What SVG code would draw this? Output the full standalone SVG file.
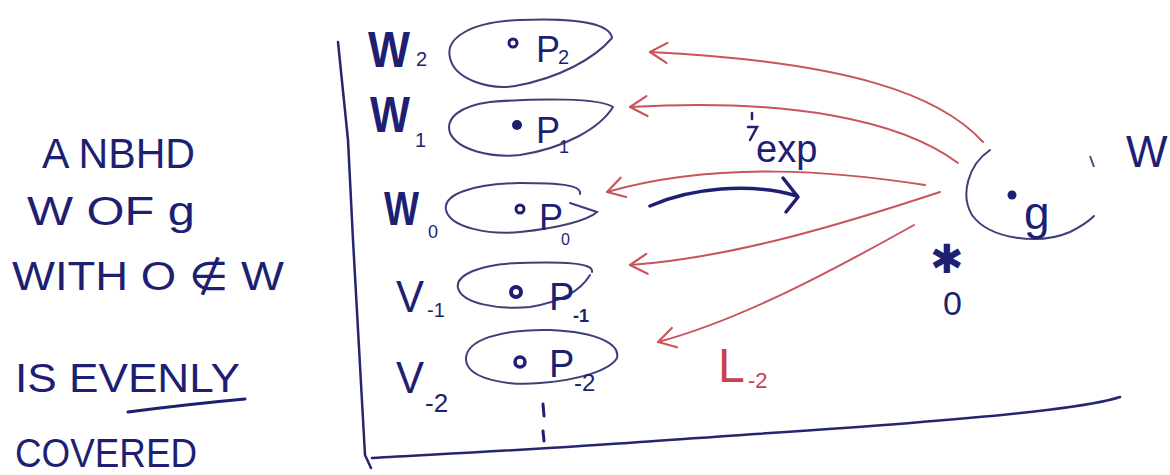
<svg xmlns="http://www.w3.org/2000/svg" width="1170" height="475" viewBox="0 0 1170 475">
<style>
.ink{fill:#1e1f73;font-family:"Liberation Sans","DejaVu Sans",sans-serif;}
.bold{font-weight:bold;}
.red{fill:#c8424e;font-family:"Liberation Sans","DejaVu Sans",sans-serif;}
.blob{fill:none;stroke:#3d3f78;stroke-width:2;stroke-linecap:round;}
.frame{fill:none;stroke:#24266f;stroke-width:2.5;stroke-linecap:round;}
.arr{fill:none;stroke:#c9545c;stroke-width:2;stroke-linecap:round;}
.barr{fill:none;stroke:#1e1f73;stroke-width:3.5;stroke-linecap:round;stroke-linejoin:round;}
</style>
<defs>
<marker id="rhead" markerUnits="userSpaceOnUse" markerWidth="26" markerHeight="26" viewBox="0 0 26 26" refX="22" refY="13" orient="auto">
<path d="M5,3 L22,13 L5,23" fill="none" stroke="#c9545c" stroke-width="2.2" stroke-linecap="round" stroke-linejoin="round"/>
</marker>
</defs>
<rect width="1170" height="475" fill="#ffffff"/>

<g id="caption">
<text class="ink" x="42" y="168" font-size="42" textLength="153" lengthAdjust="spacingAndGlyphs">A NBHD</text>
<text class="ink" x="27" y="225" font-size="40" textLength="168" lengthAdjust="spacingAndGlyphs">W OF g</text>
<text class="ink" x="12" y="290" font-size="40" textLength="272" lengthAdjust="spacingAndGlyphs">WITH O ∉ W</text>
<text class="ink" x="15" y="392" font-size="40" textLength="225" lengthAdjust="spacingAndGlyphs">IS EVENLY</text>
<path d="M128,412 Q190,404 245,399" fill="none" stroke="#1e1f73" stroke-width="3" stroke-linecap="round"/>
<text class="ink" x="15" y="467" font-size="40" textLength="182" lengthAdjust="spacingAndGlyphs">COVERED</text>
</g>

<g id="frame">
<path class="frame" d="M338,42 L348,140 L353,240 L365,455 L371,468"/>
<path class="frame" d="M372,458 C480,452 560,448 640,442 C780,432 950,422 1047,410 C1080,406 1105,402 1120,397" stroke="#4a4c80" stroke-width="2"/>
</g>

<g id="W2">
<text class="ink bold" x="368" y="67" font-size="50" textLength="42" lengthAdjust="spacingAndGlyphs">W</text>
<text class="ink" x="416" y="66" font-size="20">2</text>
<path class="blob" d="M612,38 C610,22 570,18 520,20 C470,22 445,38 450,58 C455,80 490,90 515,86 C560,78 595,58 612,38"/>
<circle cx="513" cy="43" r="4" fill="none" stroke="#1e1f73" stroke-width="3"/>
<text class="ink" x="536" y="62" font-size="36">P</text>
<text class="ink" x="558" y="64" font-size="20">2</text>
</g>

<g id="W1">
<text class="ink bold" x="370" y="132" font-size="50" textLength="40" lengthAdjust="spacingAndGlyphs">W</text>
<text class="ink" x="415" y="147" font-size="20">1</text>
<path class="blob" d="M613,107 C600,98 540,98 490,102 C460,106 445,118 450,133 C458,150 490,158 520,155 C565,148 600,128 613,107"/>
<circle cx="517" cy="125" r="5" fill="#1e1f73"/>
<text class="ink" x="536" y="143" font-size="36">P</text>
<text class="ink" x="559" y="153" font-size="18">1</text>
</g>

<g id="W0">
<text class="ink bold" x="384" y="225" font-size="48" textLength="35" lengthAdjust="spacingAndGlyphs">W</text>
<text class="ink" x="428" y="238" font-size="18">0</text>
<path class="blob" d="M580,194 C582,185 560,183 520,183 C470,184 443,195 446,210 C450,228 490,235 520,232 C560,228 588,220 597,212 L570,203"/>
<circle cx="520" cy="209" r="4" fill="none" stroke="#1e1f73" stroke-width="3"/>
<text class="ink" x="539" y="230" font-size="36">P</text>
<text class="ink" x="561" y="245" font-size="16">0</text>
</g>

<g id="V-1">
<text class="ink" x="396" y="312" font-size="44" textLength="28" lengthAdjust="spacingAndGlyphs">V</text>
<text class="ink" x="427" y="317" font-size="20">-1</text>
<path class="blob" d="M592,272 C594,262 560,262 520,263 C480,264 455,275 458,288 C462,304 500,310 530,307 C560,302 580,292 590,275"/>
<circle cx="516" cy="292" r="5" fill="none" stroke="#1e1f73" stroke-width="4"/>
<text class="ink" x="549" y="310" font-size="38">P</text>
<text class="ink bold" x="573" y="322" font-size="18">-1</text>
</g>

<g id="V-2">
<text class="ink" x="396" y="393" font-size="44" textLength="28" lengthAdjust="spacingAndGlyphs">V</text>
<text class="ink" x="425" y="412" font-size="26">-2</text>
<path class="blob" d="M617,358 C620,345 600,332 550,330 C500,329 465,340 466,360 C468,380 510,386 540,383 C580,380 610,370 617,358"/>
<circle cx="520" cy="362" r="5" fill="none" stroke="#1e1f73" stroke-width="3.5"/>
<text class="ink" x="549" y="377" font-size="38">P</text>
<text class="ink" x="574" y="391" font-size="24">-2</text>
</g>

<g id="ellipsis">
<line x1="543" y1="404" x2="544" y2="416" stroke="#1e1f73" stroke-width="3" stroke-linecap="round"/>
<line x1="543" y1="431" x2="544" y2="441" stroke="#1e1f73" stroke-width="3" stroke-linecap="round"/>
</g>

<g id="Wq">
<path class="blob" d="M990,150 C968,165 960,195 972,215 C990,240 1040,245 1070,232 C1082,226 1090,220 1094,216"/>
<circle cx="1012" cy="195" r="4.5" fill="#1e1f73"/>
<text class="ink" x="1024" y="229" font-size="46">g</text>
<line x1="1090" y1="156" x2="1094" y2="167" stroke="#4a4c80" stroke-width="2"/>
<text class="ink" x="1126" y="167" font-size="44">W</text>
</g>

<g id="origin">
<text x="930" y="273" font-size="40" fill="#1e1f73" font-family="'DejaVu Sans',sans-serif">✱</text>
<text class="ink" x="943" y="315" font-size="34">0</text>
</g>

<g id="connectors">
<path class="arr" d="M983,142 C940,95 850,62 650,52" marker-end="url(#rhead)"/>
<path class="arr" d="M958,163 C900,120 790,98 630,107" marker-end="url(#rhead)"/>
<path class="arr" d="M925,185 C840,172 720,160 607,192" marker-end="url(#rhead)"/>
<path class="arr" d="M940,192 C840,225 730,258 630,265" marker-end="url(#rhead)"/>
<path class="arr" d="M914,225 C830,272 740,320 658,342" marker-end="url(#rhead)"/>
<path class="barr" d="M650,206 C690,188 750,182 797,196"/>
<path class="barr" d="M783,178 L798,197 L786,212"/>
<path d="M752,113 L752,119 M748,127 L757,127 L750,140" fill="none" stroke="#1e1f73" stroke-width="2.5" stroke-linecap="round"/>
<text class="ink" x="756" y="162" font-size="38">exp</text>
<text class="red" x="718" y="382" font-size="48">L</text>
<text class="red" x="748" y="388" font-size="22">-2</text>
</g>
</svg>
